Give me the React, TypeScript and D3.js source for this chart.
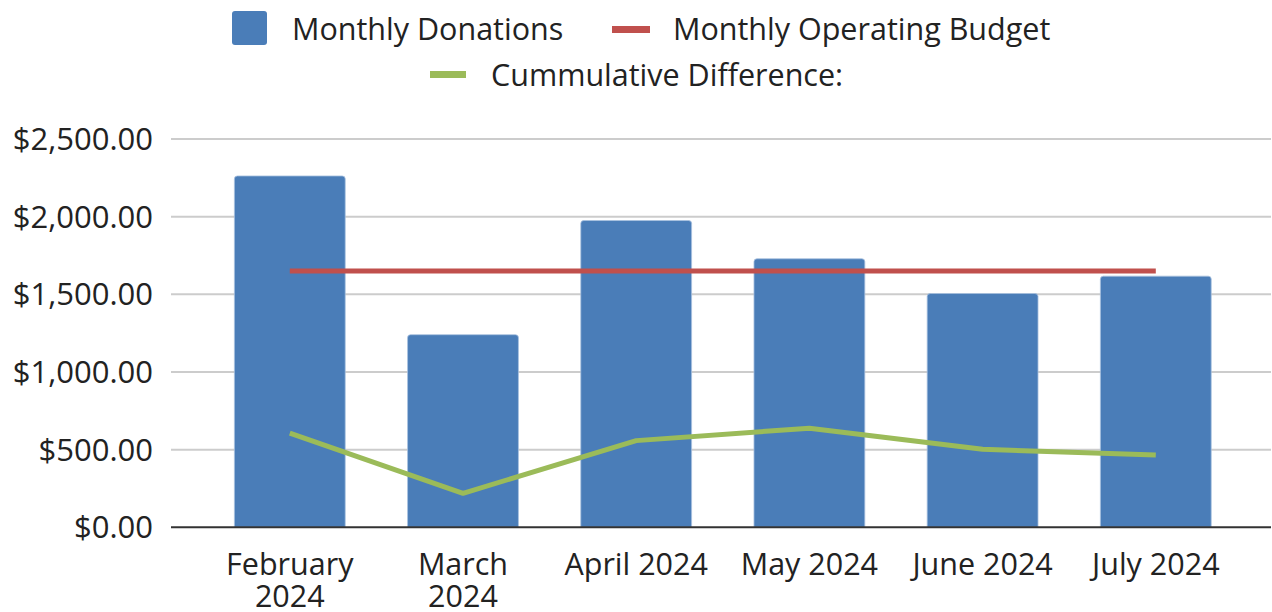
import React from "react";
import * as d3 from "d3";

const categories = ["February 2024", "March 2024", "April 2024", "May 2024", "June 2024", "July 2024"];
const categoryLines = [["February", "2024"], ["March", "2024"], ["April 2024"], ["May 2024"], ["June 2024"], ["July 2024"]];
const donations = [2262, 1240, 1975, 1729, 1505, 1617];
const budget = [1650, 1650, 1650, 1650, 1650, 1650];
const cumulative = [606, 219, 558, 638, 502, 466];
const yTicks = [0, 500, 1000, 1500, 2000, 2500];
const legendItems = ["Monthly Donations", "Monthly Operating Budget", "Cummulative Difference:"];

const W = 1272;
const H = 612;
const FONT = "'Open Sans', sans-serif";
const BLUE = "#4a7db8";
const RED = "#c0504d";
const GREEN = "#9bbb59";

export default function App() {
  const y = d3.scaleLinear().domain([0, 2500]).range([527.3, 139]);
  const x = d3.scaleBand<string>().domain(categories).range([203.2, 1242.4]).paddingInner(0.36).paddingOuter(0.18);
  const gridX0 = 171;
  const gridX1 = 1271;
  const fmt = (v: number) => "$" + d3.format(",.2f")(v);
  const cx = (c: string) => (x(c) as number) + x.bandwidth() / 2;

  const line = d3
    .line<number>()
    .x((_, i) => cx(categories[i]))
    .y((d) => y(d));

  const barPath = (c: string, v: number) => {
    const x0 = x(c) as number;
    const w = x.bandwidth();
    const y0 = y(v);
    const yb = y(0);
    const r = 3;
    return `M${x0},${yb}V${y0 + r}Q${x0},${y0} ${x0 + r},${y0}H${x0 + w - r}Q${x0 + w},${y0} ${x0 + w},${y0 + r}V${yb}Z`;
  };

  return (
    <svg width={W} height={H} style={{ position: "absolute", left: 0, top: 0, background: "#fff" }} fontFamily={FONT}>
      {yTicks.map((t) =>
        t === 0 ? null : (
          <line key={t} x1={gridX0} x2={gridX1} y1={y(t)} y2={y(t)} stroke="#cccccc" strokeWidth={2} />
        )
      )}
      {yTicks.map((t) => (
        <text key={"l" + t} x={153} y={y(t)} dy="0.36em" textAnchor="end" fontSize={31} fill="#222">
          {fmt(t)}
        </text>
      ))}
      {categories.map((c, i) => (
        <path key={c} d={barPath(c, donations[i])} fill={BLUE} stroke="#a9c2e0" strokeWidth={0.8} />
      ))}
      <line x1={gridX0} x2={gridX1} y1={y(0)} y2={y(0)} stroke="#333" strokeWidth={2} />
      <path d={line(budget) as string} fill="none" stroke={RED} strokeWidth={5} />
      <path d={line(cumulative) as string} fill="none" stroke={GREEN} strokeWidth={5} strokeLinejoin="round" />
      {categories.map((c, i) => (
        <text key={"x" + c} x={cx(c)} y={575} textAnchor="middle" fontSize={30.5} fill="#222">
          {categoryLines[i].map((ln, j) => (
            <tspan key={j} x={cx(c)} dy={j === 0 ? 0 : 32}>
              {ln}
            </tspan>
          ))}
        </text>
      ))}
      <rect x={232} y={11} width={35} height={34} rx={3} fill={BLUE} />
      <text x={292} y={40} fontSize={30.5} fill="#222">{legendItems[0]}</text>
      <rect x={612} y={26} width={38} height={7} fill={RED} />
      <text x={673} y={40} fontSize={30.5} fill="#222">{legendItems[1]}</text>
      <rect x={430} y={71} width={36} height={7} fill={GREEN} />
      <text x={491} y={86} fontSize={30.5} fill="#222">{legendItems[2]}</text>
    </svg>
  );
}
